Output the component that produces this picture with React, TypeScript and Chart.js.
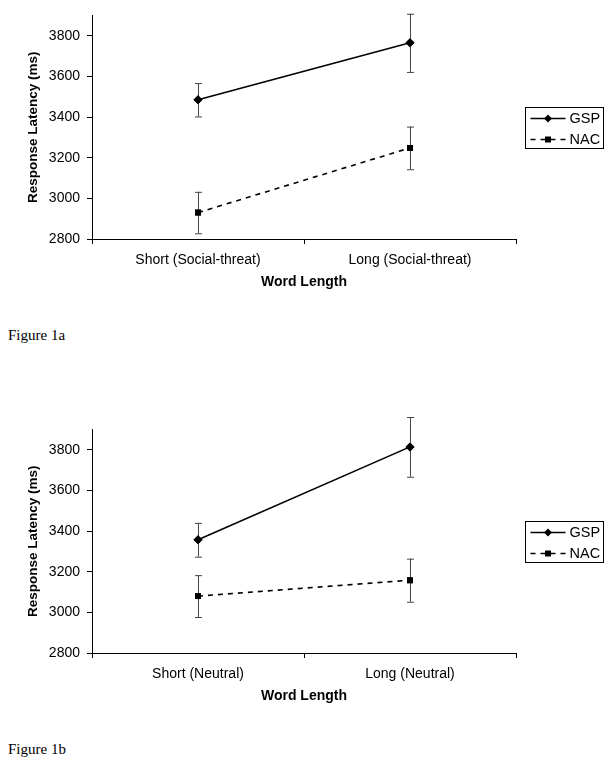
import React, { useEffect, useRef } from "react";
import { Chart, registerables } from "chart.js";

Chart.register(...registerables);

const SERIES = ["GSP", "NAC"];
const Y_TICK_MIN = 2800;
const Y_TICK_MAX = 3900;
const Y_STEP = 200;

const categoriesA = ["Short (Social-threat)", "Long (Social-threat)"];
const gspA = [3485, 3765];
const gspErrA = [82, 143];
const nacA = [2930, 3248];
const nacErrA = [102, 105];

const categoriesB = ["Short (Neutral)", "Long (Neutral)"];
const gspB = [3357, 3814];
const gspErrB = [83, 147];
const nacB = [3080, 3158];
const nacErrB = [103, 106];

const FONT = "'Liberation Sans', Arial, sans-serif";

const errorBarPlugin = {
  id: "errorBars",
  afterDatasetsDraw(chart: any) {
    const ctx = chart.ctx;
    const y = chart.scales.y;
    chart.data.datasets.forEach((ds: any, di: number) => {
      const meta = chart.getDatasetMeta(di);
      const errs: number[] = ds.errors || [];
      meta.data.forEach((pt: any, i: number) => {
        const v = ds.data[i];
        const e = errs[i];
        if (e == null) return;
        const x = pt.x;
        const yt = y.getPixelForValue(v + e);
        const yb = y.getPixelForValue(v - e);
        ctx.save();
        ctx.strokeStyle = "#444";
        ctx.lineWidth = 1;
        ctx.setLineDash([]);
        ctx.beginPath();
        ctx.moveTo(x + 0.5, yt);
        ctx.lineTo(x + 0.5, yb);
        ctx.moveTo(x - 3, yt + 0.5);
        ctx.lineTo(x + 4, yt + 0.5);
        ctx.moveTo(x - 3, yb + 0.5);
        ctx.lineTo(x + 4, yb + 0.5);
        ctx.stroke();
        ctx.restore();
      });
      meta.data.forEach((pt: any) => pt.draw(ctx, chart.chartArea));
    });
  },
};

const legendPlugin = {
  id: "boxLegend",
  afterDraw(chart: any) {
    const ctx = chart.ctx;
    const ca = chart.chartArea;
    const left = ca.right + 9.5;
    const w = 78;
    const h = 41;
    const top = Math.round((ca.top + ca.bottom) / 2 - h / 2) + 0.5;
    ctx.save();
    ctx.strokeStyle = "#000";
    ctx.lineWidth = 1;
    ctx.strokeRect(left, top, w, h);
    ctx.font = `14.5px ${FONT}`;
    ctx.fillStyle = "#000";
    ctx.textBaseline = "middle";
    chart.data.datasets.forEach((ds: any, i: number) => {
      const ry = top + 11 + i * 21;
      ctx.strokeStyle = "#000";
      ctx.lineWidth = 1.5;
      ctx.setLineDash(ds.borderDash || []);
      ctx.beginPath();
      ctx.moveTo(left + 5, ry);
      ctx.lineTo(left + 40, ry);
      ctx.stroke();
      ctx.setLineDash([]);
      const mx = left + 22.5;
      ctx.beginPath();
      if (ds.pointStyle === "rectRot") {
        ctx.moveTo(mx, ry - 4);
        ctx.lineTo(mx + 4, ry);
        ctx.lineTo(mx, ry + 4);
        ctx.lineTo(mx - 4, ry);
        ctx.closePath();
      } else {
        ctx.rect(mx - 3, ry - 3, 6, 6);
      }
      ctx.fill();
      ctx.fillText(ds.label, left + 44, ry + 0.5);
    });
    ctx.restore();
  },
};

function makeConfig(categories: string[], gsp: number[], gspErr: number[], nac: number[], nacErr: number[]): any {
  return {
    type: "line",
    data: {
      labels: categories,
      datasets: [
        {
          label: SERIES[0],
          data: gsp,
          errors: gspErr,
          borderColor: "#000",
          backgroundColor: "#000",
          borderWidth: 1.6,
          pointStyle: "rectRot",
          pointRadius: 4.5,
          pointBorderWidth: 0,
          tension: 0,
        },
        {
          label: SERIES[1],
          data: nac,
          errors: nacErr,
          borderColor: "#000",
          backgroundColor: "#000",
          borderWidth: 1.6,
          borderDash: [5, 5],
          pointStyle: "rect",
          pointRadius: 4.2,
          pointBorderWidth: 0,
          tension: 0,
        },
      ],
    },
    options: {
      responsive: false,
      animation: false,
      layout: { padding: { left: 0, right: 96, top: 9, bottom: 0 } },
      plugins: { legend: { display: false }, tooltip: { enabled: false } },
      scales: {
        x: {
          type: "category",
          offset: true,
          afterFit: (s: any) => {
            s.height = 61;
          },
          grid: {
            offset: true,
            drawOnChartArea: false,
            drawTicks: true,
            tickLength: 5,
            tickColor: "#000",
          },
          border: { display: true, color: "#000", width: 1 },
          ticks: { color: "#000", font: { family: FONT, size: 14 }, padding: 8, maxRotation: 0 },
          title: {
            display: true,
            text: "Word Length",
            color: "#000",
            font: { family: FONT, size: 14, weight: "bold" },
            padding: { top: 0, bottom: 9 },
          },
        },
        y: {
          type: "linear",
          min: Y_TICK_MIN,
          max: Y_TICK_MAX,
          afterFit: (s: any) => {
            s.width = 92;
          },
          grid: {
            drawOnChartArea: false,
            drawTicks: true,
            tickLength: 5,
            tickColor: "#000",
          },
          border: { display: true, color: "#000", width: 1 },
          ticks: {
            stepSize: Y_STEP,
            includeBounds: false,
            color: "#000",
            font: { family: FONT, size: 14 },
            padding: 7,
            callback: (v: any) => String(v),
          },
          title: {
            display: true,
            text: "Response Latency (ms)",
            color: "#000",
            font: { family: FONT, size: 13.5, weight: "bold" },
            padding: { top: 25, bottom: 0 },
          },
        },
      },
    },
    plugins: [errorBarPlugin, legendPlugin],
  };
}

function ChartCanvas(props: { config: () => any; top: number }) {
  const ref = useRef<HTMLCanvasElement | null>(null);
  useEffect(() => {
    if (!ref.current) return;
    const c = new Chart(ref.current, props.config());
    return () => c.destroy();
  }, []);
  return (
    <canvas
      ref={ref}
      width={612}
      height={300}
      style={{ position: "absolute", left: 0, top: props.top, width: 612, height: 300 }}
    />
  );
}

export default function App() {
  const figStyle: React.CSSProperties = {
    position: "absolute",
    left: 8,
    fontFamily: "'Liberation Serif', 'Times New Roman', serif",
    fontSize: 15,
    lineHeight: "18px",
    color: "#000",
    margin: 0,
  };
  return (
    <div style={{ position: "fixed", left: 0, top: 0, width: 612, height: 766, background: "#fff", overflow: "hidden" }}>
      <ChartCanvas top={0} config={() => makeConfig(categoriesA, gspA, gspErrA, nacA, nacErrA)} />
      <div style={{ ...figStyle, top: 326 }}>Figure 1a</div>
      <ChartCanvas top={414} config={() => makeConfig(categoriesB, gspB, gspErrB, nacB, nacErrB)} />
      <div style={{ ...figStyle, top: 740 }}>Figure 1b</div>
    </div>
  );
}
